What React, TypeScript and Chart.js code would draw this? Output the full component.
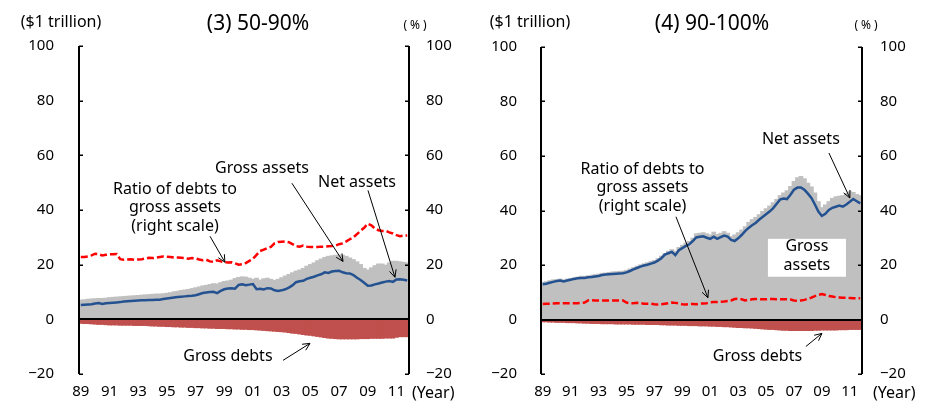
import React, { useEffect, useRef } from 'react';
import { Chart, registerables } from 'chart.js';

Chart.register(...registerables);

// ---------- DATA (quarterly, 1989Q1 - 2011Q4) ----------
const years: number[] = [];
for (let y = 1989; y <= 2011; y++) years.push(y);
const quarterLabels: string[] = [];
years.forEach((y) => { for (let q = 1; q <= 4; q++) quarterLabels.push(`${y}Q${q}`); });

const yearTickLabels = ['89', '91', '93', '95', '97', '99', '01', '03', '05', '07', '09', '11'];
const valueTicks = [-20, 0, 20, 40, 60, 80, 100];

// (3) 50-90%
const grossAssets3 = [
  7.0, 7.1, 7.3, 7.4, 7.5, 7.6, 7.6, 7.7, 7.9, 8.0, 8.1, 8.2, 8.3, 8.4, 8.5, 8.6,
  8.7, 8.8, 8.9, 9.0, 9.1, 9.2, 9.2, 9.3, 9.5, 9.7, 10.0, 10.2, 10.5, 10.7, 10.9, 11.2,
  11.5, 11.8, 12.2, 12.4, 12.7, 13.0, 12.9, 13.4, 13.8, 14.0, 14.3, 14.9, 15.3, 15.5, 15.4, 15.0,
  14.6, 15.0, 14.3, 14.8, 15.0, 14.6, 14.2, 14.6, 15.2, 15.8, 16.4, 17.0, 17.6, 18.0, 18.6, 19.4,
  20.0, 20.6, 21.4, 22.0, 22.6, 23.0, 23.2, 23.4, 23.5, 23.4, 23.0, 22.4, 21.8, 21.0, 20.0, 18.6,
  18.0, 18.8, 19.6, 20.2, 20.2, 19.8, 20.6, 21.2, 21.2, 21.0, 20.8, 20.6,
];
const grossDebts3 = [
  -1.4, -1.5, -1.5, -1.6, -1.7, -1.8, -1.8, -1.9, -2.0, -2.0, -2.0, -2.1, -2.1, -2.1, -2.1, -2.2,
  -2.2, -2.2, -2.2, -2.3, -2.4, -2.4, -2.5, -2.5, -2.6, -2.6, -2.7, -2.7, -2.8, -2.8, -2.9, -2.9,
  -3.0, -3.0, -3.1, -3.1, -3.2, -3.2, -3.3, -3.3, -3.3, -3.4, -3.4, -3.5, -3.5, -3.6, -3.6, -3.7,
  -3.7, -3.8, -3.9, -4.0, -4.1, -4.2, -4.3, -4.4, -4.5, -4.6, -4.8, -5.0, -5.1, -5.3, -5.5, -5.7,
  -5.8, -6.0, -6.2, -6.4, -6.6, -6.8, -6.9, -7.0, -7.1, -7.1, -7.1, -7.1, -7.1, -7.1, -7.0, -7.0,
  -7.0, -6.9, -6.9, -6.9, -6.9, -6.8, -6.8, -6.8, -6.5, -6.3, -6.3, -6.3,
];
const netAssets3 = [
  5.2, 5.3, 5.4, 5.5, 5.8, 6.0, 5.6, 5.9, 6.0, 6.1, 6.2, 6.3, 6.5, 6.6, 6.7, 6.8,
  6.9, 7.0, 7.0, 7.1, 7.1, 7.2, 7.2, 7.4, 7.6, 7.8, 8.0, 8.2, 8.3, 8.4, 8.5, 8.6,
  8.8, 9.2, 9.6, 9.8, 10.0, 10.1, 9.6, 10.4, 11.0, 11.3, 11.4, 11.2, 12.6, 12.8, 12.5, 12.7,
  12.9, 11.0, 11.2, 10.9, 11.4, 11.3, 10.6, 10.4, 10.6, 11.0, 11.6, 12.4, 13.6, 13.9, 14.1, 14.8,
  15.2, 15.6, 16.1, 16.5, 17.2, 17.0, 17.5, 17.7, 17.8, 17.2, 16.9, 16.8, 16.2, 15.2, 14.4, 13.4,
  12.3, 12.4, 12.8, 13.1, 13.5, 13.8, 14.0, 13.7, 14.6, 14.7, 14.5, 14.2,
];
const debtRatio3 = [
  22.8, 22.8, 23.0, 23.4, 24.0, 23.8, 23.4, 23.6, 23.8, 23.8, 23.9, 22.0, 21.8, 21.9, 22.0, 21.8,
  21.9, 22.0, 22.2, 22.5, 22.4, 22.6, 22.8, 23.0, 22.9, 22.8, 22.6, 22.6, 22.5, 22.4, 22.2, 22.4,
  22.3, 21.9, 21.6, 21.8, 21.2, 21.0, 21.6, 21.2, 20.9, 20.8, 20.9, 20.5, 20.0, 20.2, 20.6, 21.4,
  22.2, 23.6, 25.0, 25.5, 26.0, 26.5, 27.8, 28.3, 28.4, 28.5, 28.2, 27.5, 26.8, 26.6, 27.0, 26.6,
  26.5, 26.4, 26.5, 26.6, 26.6, 26.7, 26.8, 27.0, 27.5, 27.8, 28.5, 29.3, 30.0, 31.2, 32.4, 33.5,
  35.0, 34.4, 33.2, 32.6, 32.3, 32.4, 31.8, 31.4, 30.8, 30.4, 30.6, 30.7,
];

// (4) 90-100%
const grossAssets4 = [
  13.6, 13.8, 14.2, 14.5, 14.6, 14.8, 14.5, 14.8, 15.0, 15.3, 15.5, 15.8, 15.8, 16.0, 16.2, 16.4,
  16.6, 16.9, 17.0, 17.2, 17.4, 17.5, 17.6, 17.7, 18.0, 18.5, 19.0, 19.5, 20.0, 20.4, 20.8, 21.2,
  21.6, 22.3, 23.2, 24.2, 25.0, 25.6, 25.0, 26.4, 27.2, 28.0, 28.6, 29.8, 31.4, 31.6, 31.8, 31.4,
  31.0, 32.0, 31.2, 31.6, 32.2, 31.6, 30.4, 31.0, 31.8, 32.8, 34.0, 35.6, 36.6, 37.4, 38.4, 39.6,
  40.6, 41.6, 42.8, 44.0, 45.4, 46.4, 47.2, 48.8, 50.6, 52.0, 52.4, 51.6, 50.0, 48.6, 46.4, 43.2,
  41.0, 42.0, 43.2, 44.4, 45.0, 45.2, 45.4, 46.2, 46.8, 46.6, 45.8, 45.4,
];
const grossDebts4 = [
  -0.8, -0.8, -0.9, -0.9, -1.0, -1.0, -1.0, -1.1, -1.1, -1.1, -1.2, -1.2, -1.3, -1.3, -1.4, -1.4,
  -1.4, -1.5, -1.5, -1.5, -1.5, -1.6, -1.6, -1.6, -1.6, -1.6, -1.7, -1.7, -1.7, -1.7, -1.8, -1.8,
  -1.8, -1.8, -1.9, -1.9, -2.0, -2.0, -2.0, -2.1, -2.1, -2.1, -2.2, -2.2, -2.2, -2.3, -2.3, -2.3,
  -2.4, -2.4, -2.5, -2.5, -2.6, -2.6, -2.7, -2.8, -2.9, -2.9, -3.0, -3.0, -3.1, -3.2, -3.3, -3.4,
  -3.5, -3.6, -3.6, -3.7, -3.8, -3.9, -3.9, -4.0, -4.0, -4.0, -4.0, -4.0, -4.0, -4.0, -3.9, -3.9,
  -3.8, -3.8, -3.8, -3.8, -3.8, -3.7, -3.7, -3.7, -3.6, -3.6, -3.6, -3.6,
];
const netAssets4 = [
  12.9, 13.1, 13.5, 13.8, 14.1, 14.3, 14.0, 14.3, 14.6, 14.9, 15.1, 15.2, 15.2, 15.5, 15.6, 15.8,
  16.0, 16.3, 16.5, 16.6, 16.7, 16.8, 16.9, 17.0, 17.3, 17.8, 18.4, 18.9, 19.4, 19.8, 20.1, 20.5,
  20.9, 21.6, 22.5, 23.8, 24.3, 24.8, 23.6, 25.4, 26.2, 27.0, 27.6, 28.8, 30.1, 30.4, 30.5, 30.0,
  29.6, 30.4, 29.6, 30.2, 30.8, 30.4, 29.2, 28.8, 29.8, 31.0, 32.4, 33.6, 34.6, 35.4, 36.6, 37.6,
  38.6, 39.6, 40.8, 42.4, 44.0, 44.4, 44.2, 45.8, 47.6, 48.4, 48.4, 47.6, 46.2, 44.6, 42.2, 39.6,
  38.0, 38.8, 40.2, 41.0, 41.4, 41.8, 41.4, 42.2, 43.2, 44.2, 43.4, 42.6,
];
const debtRatio4 = [
  5.7, 5.8, 5.8, 5.9, 6.0, 6.0, 6.0, 6.0, 6.0, 6.0, 6.0, 6.1, 6.2, 7.0, 7.1, 7.0,
  7.0, 7.0, 7.0, 7.0, 7.0, 7.0, 7.0, 7.0, 6.2, 6.0, 6.0, 6.1, 6.0, 5.8, 5.8, 5.8,
  5.6, 5.5, 5.6, 5.8, 6.0, 6.2, 6.1, 5.9, 5.6, 5.5, 5.6, 5.7, 5.6, 5.8, 5.9, 6.0,
  6.3, 6.4, 6.4, 6.5, 6.6, 6.8, 7.0, 7.5, 7.6, 7.4, 7.0, 7.2, 7.4, 7.5, 7.5, 7.4,
  7.4, 7.5, 7.5, 7.4, 7.4, 7.4, 7.4, 7.3, 7.0, 6.9, 7.0, 7.2, 7.6, 8.0, 8.6, 9.0,
  9.3, 9.0, 8.6, 8.4, 8.2, 8.1, 8.0, 8.0, 7.9, 7.8, 7.8, 7.8,
];

// ---------- STYLE ----------
const FONT = '"Noto Sans", "Liberation Sans", sans-serif';
const GRAY = '#C0C0C0';
const RED_BAR = '#C0504D';
const BLUE = '#245291';
const RED_LINE = '#FF0000';

type Note = { lines: string[]; year: number; value: number; box?: [number, number, number, number] };
type Arrow = [number, number, number, number];

interface PanelCfg {
  left: number;
  width: number;
  title: string;
  titleX: number;
  unitX: number;
  pctX: number;
  yearX: number;
  padTop: number;
  xHeight: number;
  yWidth: number;
  y1Width: number;
  yPad: number;
  y1Pad: number;
  assets: number[];
  debts: number[];
  net: number[];
  ratio: number[];
  notes: Note[];
  arrows: Arrow[];
}

const panels: PanelCfg[] = [
  {
    left: 0, width: 465, title: '(3) 50-90%', titleX: 258, unitX: 61, pctX: 415, yearX: 412,
    padTop: 46, xHeight: 27, yWidth: 79, y1Width: 56, yPad: 25, y1Pad: 17,
    assets: grossAssets3, debts: grossDebts3, net: netAssets3, ratio: debtRatio3,
    notes: [
      { lines: ['Gross assets'], year: 2001.75, value: 55.2 },
      { lines: ['Net assets'], year: 2008.37, value: 50.1 },
      { lines: ['Ratio of debts to', 'gross assets', '(right scale)'], year: 1995.69, value: 47.6 },
      { lines: ['Gross debts'], year: 1999.38, value: -13.5 },
    ],
    arrows: [
      [2003.84, 49.8, 2007.4, 21.2],
      [2009.14, 47.2, 2011.02, 15.4],
      [1998.13, 30.4, 1999.17, 20.9],
      [2003.22, -15.0, 2005.1, -8.8],
    ],
  },
  {
    left: 465, width: 464, title: '(4) 90-100%', titleX: 247, unitX: 65, pctX: 401, yearX: 408,
    padTop: 47, xHeight: 27, yWidth: 76, y1Width: 67, yPad: 24, y1Pad: 18,
    assets: grossAssets4, debts: grossDebts4, net: netAssets4, ratio: debtRatio4,
    notes: [
      { lines: ['Net assets'], year: 2007.62, value: 66.2 },
      { lines: ['Ratio of debts to', 'gross assets', '(right scale)'], year: 1996.27, value: 55.2 },
      { lines: ['Gross', 'assets'], year: 2008.05, value: 26.7, box: [2005.26, 29.6, 2010.85, 15.7] },
      { lines: ['Gross debts'], year: 2004.51, value: -13.5 },
    ],
    arrows: [
      [2009.63, 61.1, 2011.13, 44.6],
      [1998.67, 37.7, 2000.96, 8.0],
      [2007.98, -9.9, 2009.13, -5.1],
    ],
  },
];

const fmtTick = (v: number | string) => {
  const n = Number(v);
  return n < 0 ? '\u2212' + Math.abs(n) : String(n);
};

function buildConfig(p: PanelCfg): any {
  const xPix = (chart: any, year: number) => chart.scales.x.getPixelForValue((year - 1989) * 4 - 0.5);
  const yPix = (chart: any, v: number) => chart.scales.y.getPixelForValue(v);

  const framePlugin = {
    id: 'frame',
    afterDatasetsDraw(chart: any) {
      const { ctx, chartArea: a } = chart;
      const y = chart.scales.y;
      ctx.save();
      ctx.strokeStyle = '#000';
      ctx.lineWidth = 2;
      const z = Math.round(y.getPixelForValue(0));
      ctx.beginPath();
      ctx.moveTo(a.left, z);
      ctx.lineTo(a.right, z);
      ctx.stroke();
      ctx.beginPath();
      ctx.moveTo(a.left, a.top);
      ctx.lineTo(a.left, a.bottom);
      ctx.moveTo(a.right, a.top);
      ctx.lineTo(a.right, a.bottom);
      ctx.stroke();
      ctx.lineWidth = 1.5;
      ctx.beginPath();
      valueTicks.forEach((v) => {
        const py = Math.round(y.getPixelForValue(v)) + 0.25;
        ctx.moveTo(a.left, py);
        ctx.lineTo(a.left + 4, py);
        ctx.moveTo(a.right, py);
        ctx.lineTo(a.right - 4, py);
      });
      ctx.stroke();
      ctx.restore();
    },
  };

  const textPlugin = {
    id: 'texts',
    afterDraw(chart: any) {
      const ctx = chart.ctx;
      ctx.save();
      ctx.fillStyle = '#000';
      ctx.textBaseline = 'middle';
      ctx.textAlign = 'center';
      ctx.font = `21px ${FONT}`;
      ctx.fillText(p.title, p.titleX, 24);
      ctx.font = `16px ${FONT}`;
      ctx.fillText('($1 trillion)', p.unitX, 22);
      ctx.font = `12px ${FONT}`;
      (ctx as any).letterSpacing = '3px';
      ctx.fillText('(%)', p.pctX + 1.5, 26);
      (ctx as any).letterSpacing = '0px';
      ctx.textAlign = 'left';
      ctx.font = `16px ${FONT}`;
      ctx.fillText('(Year)', p.yearX, 393);

      // annotation boxes and texts
      ctx.textAlign = 'center';
      p.notes.forEach((n) => {
        if (n.box) {
          const [x1, v1, x2, v2] = n.box;
          const bx = xPix(chart, x1), by = yPix(chart, v1);
          ctx.fillStyle = '#fff';
          ctx.fillRect(bx, by, xPix(chart, x2) - bx, yPix(chart, v2) - by);
          ctx.fillStyle = '#000';
        }
        const cx = xPix(chart, n.year);
        const cy = yPix(chart, n.value);
        n.lines.forEach((line, i) => ctx.fillText(line, cx, cy + i * 18.5));
      });

      // arrows
      ctx.strokeStyle = '#000';
      ctx.lineWidth = 1;
      p.arrows.forEach(([y1, v1, y2, v2]) => {
        const x1 = xPix(chart, y1), yy1 = yPix(chart, v1);
        const x2 = xPix(chart, y2), yy2 = yPix(chart, v2);
        ctx.beginPath();
        ctx.moveTo(x1, yy1);
        ctx.lineTo(x2, yy2);
        ctx.stroke();
        const ang = Math.atan2(yy2 - yy1, x2 - x1);
        const h = 8;
        ctx.beginPath();
        ctx.moveTo(x2 - h * Math.cos(ang - 0.45), yy2 - h * Math.sin(ang - 0.45));
        ctx.lineTo(x2, yy2);
        ctx.lineTo(x2 - h * Math.cos(ang + 0.45), yy2 - h * Math.sin(ang + 0.45));
        ctx.stroke();
      });
      ctx.restore();
    },
  };

  const tickFont = { family: FONT, size: 15 };

  return {
    type: 'bar',
    data: {
      labels: quarterLabels,
      datasets: [
        {
          type: 'line', label: 'Net assets', data: p.net, yAxisID: 'y', order: 0,
          borderColor: BLUE, borderWidth: 2.5, pointRadius: 0, tension: 0, fill: false,
        },
        {
          type: 'line', label: 'Ratio of debts to gross assets', data: p.ratio, yAxisID: 'y1', order: 0,
          borderColor: RED_LINE, borderWidth: 2.5, borderDash: [7, 3], pointRadius: 0, tension: 0, fill: false,
        },
        {
          type: 'bar', label: 'Gross assets', data: p.assets, yAxisID: 'y', order: 1,
          backgroundColor: GRAY, borderWidth: 0, barPercentage: 1, categoryPercentage: 1, grouped: false, inflateAmount: 0.6,
        },
        {
          type: 'bar', label: 'Gross debts', data: p.debts, yAxisID: 'y', order: 1,
          backgroundColor: RED_BAR, borderWidth: 0, barPercentage: 1, categoryPercentage: 1, grouped: false, inflateAmount: 0.6,
        },
      ],
    },
    options: {
      animation: false,
      responsive: false,
      maintainAspectRatio: false,
      layout: { padding: { left: 0, right: 0, top: p.padTop, bottom: 0 } },
      plugins: { legend: { display: false }, tooltip: { enabled: false }, title: { display: false } },
      scales: {
        x: {
          offset: true,
          grid: { display: false, drawTicks: false },
          border: { display: false },
          ticks: {
            autoSkip: false, maxRotation: 0, minRotation: 0, padding: 9, color: '#000', font: tickFont,
            callback: (_v: any, i: number) => (i % 8 === 0 ? yearTickLabels[i / 8] : ''),
          },
          afterFit: (s: any) => { s.height = p.xHeight; s.paddingLeft = 0; s.paddingRight = 0; },
        },
        y: {
          position: 'left', min: -20, max: 100,
          grid: { display: false, drawTicks: false },
          border: { display: false },
          ticks: { stepSize: 20, padding: p.yPad, color: '#000', font: tickFont, callback: fmtTick },
          afterFit: (s: any) => { s.width = p.yWidth; s.paddingTop = 0; s.paddingBottom = 0; },
        },
        y1: {
          position: 'right', min: -20, max: 100,
          grid: { display: false, drawTicks: false },
          border: { display: false },
          ticks: { stepSize: 20, padding: p.y1Pad, color: '#000', font: tickFont, callback: fmtTick },
          afterFit: (s: any) => { s.width = p.y1Width; s.paddingTop = 0; s.paddingBottom = 0; },
        },
      },
    },
    plugins: [framePlugin, textPlugin],
  };
}

function Panel({ cfg }: { cfg: PanelCfg }) {
  const ref = useRef<HTMLCanvasElement>(null);
  useEffect(() => {
    if (!ref.current) return;
    const chart = new Chart(ref.current, buildConfig(cfg));
    return () => chart.destroy();
  }, [cfg]);
  return (
    <div style={{ position: 'absolute', left: cfg.left, top: 0, width: cfg.width, height: 401 }}>
      <canvas ref={ref} width={cfg.width} height={401} style={{ width: cfg.width, height: 401, display: 'block' }} />
    </div>
  );
}

export default function App() {
  return (
    <div style={{ position: 'fixed', left: 0, top: 0, width: 929, height: 401, background: '#fff', overflow: 'hidden' }}>
      {panels.map((p) => (
        <Panel key={p.title} cfg={p} />
      ))}
    </div>
  );
}
